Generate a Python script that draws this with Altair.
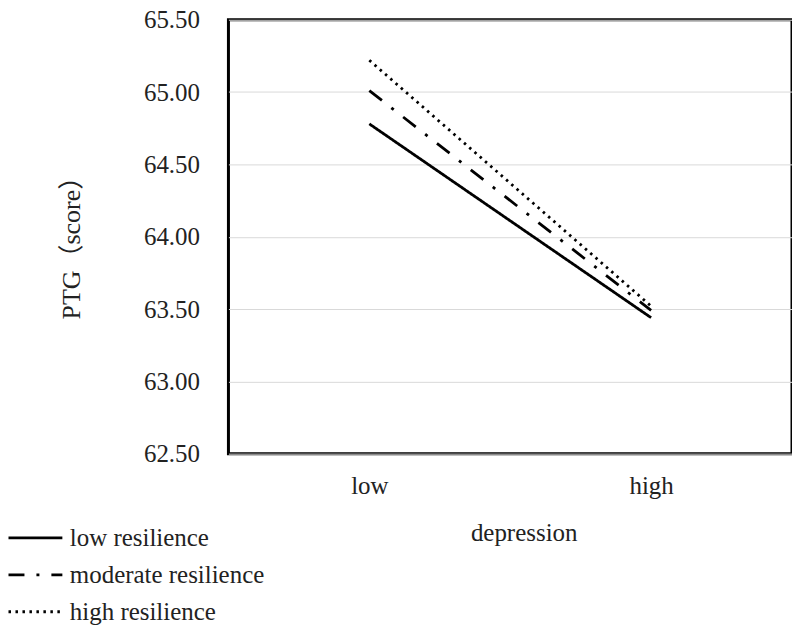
import altair as alt
import pandas as pd

# ---- data ----
depression_levels = ["low", "high"]
resilience_groups = ["low resilience", "moderate resilience", "high resilience"]
low_resilience = [64.78, 63.44]
moderate_resilience = [65.01, 63.49]
high_resilience = [65.22, 63.52]
y_tick_values = [62.5, 63.0, 63.5, 64.0, 64.5, 65.0, 65.5]

rows = []
for grp, vals in zip(resilience_groups, [low_resilience, moderate_resilience, high_resilience]):
    for lvl, v in zip(depression_levels, vals):
        rows.append({"resilience": grp, "depression": lvl, "ptg": v})
df = pd.DataFrame(rows)

FONT = "Liberation Serif, Times New Roman, Noto Sans CJK SC, serif"
TXT = "#222222"

chart = (
    alt.Chart(df)
    .mark_line(color="black", strokeWidth=2.8, strokeCap="butt")
    .encode(
        x=alt.X(
            "depression:N",
            sort=depression_levels,
            scale=alt.Scale(type="point", padding=0.5),
            axis=alt.Axis(
                title="depression",
                labelAngle=0,
                ticks=False,
                domain=False,
                grid=False,
                labelFont=FONT,
                labelFontSize=25,
                labelColor=TXT,
                labelPadding=40,
                labelBaseline="alphabetic",
                titleFont=FONT,
                titleFontSize=25,
                titleFontWeight="normal",
                titleColor=TXT,
                titleX=296,
                titleY=87,
                titleAlign="center",
                titleBaseline="alphabetic",
            ),
        ),
        y=alt.Y(
            "ptg:Q",
            scale=alt.Scale(domain=[62.5, 65.5], nice=False, zero=False),
            axis=alt.Axis(
                title="PTG（score）",
                values=y_tick_values,
                format=".2f",
                ticks=False,
                domain=False,
                grid=True,
                gridColor="#d9d9d9",
                gridWidth=1,
                labelFont=FONT,
                labelFontSize=25,
                labelColor=TXT,
                labelPadding=29,
                titleFont=FONT,
                titleFontSize=26,
                titleFontWeight="normal",
                titleColor=TXT,
                titleAngle=-90,
                titleX=-157,
                titleY=222,
                titleAlign="center",
                titleBaseline="middle",
            ),
        ),
        strokeDash=alt.StrokeDash(
            "resilience:N",
            sort=resilience_groups,
            scale=alt.Scale(
                domain=resilience_groups,
                range=[[1, 0], [16, 12, 3, 12], [2.5, 4.5]],
            ),
            legend=alt.Legend(
                title=None,
                orient="none",
                legendX=-221,
                legendY=507,
                direction="vertical",
                padding=0,
                symbolType="M-2.7,0L2.7,0",
                symbolSize=400,
                symbolOffset=15,
                symbolStrokeWidth=2.8,
                symbolStrokeColor="black",
                symbolFillColor="transparent",
                labelFont=FONT,
                labelFontSize=25,
                labelColor=TXT,
                labelOffset=22,
                labelLimit=400,
                rowPadding=11,
            ),
        ),
        detail="resilience:N",
    )
    .properties(
        width=565,
        height=435,
        autosize=alt.AutoSizeParams(type="none"),
        padding={"left": 221, "top": 11, "right": 0, "bottom": 174},
    )
    .configure_view(stroke="black", strokeWidth=3)
)

chart.save("out.html", embed_options={"renderer": "svg", "actions": False})
